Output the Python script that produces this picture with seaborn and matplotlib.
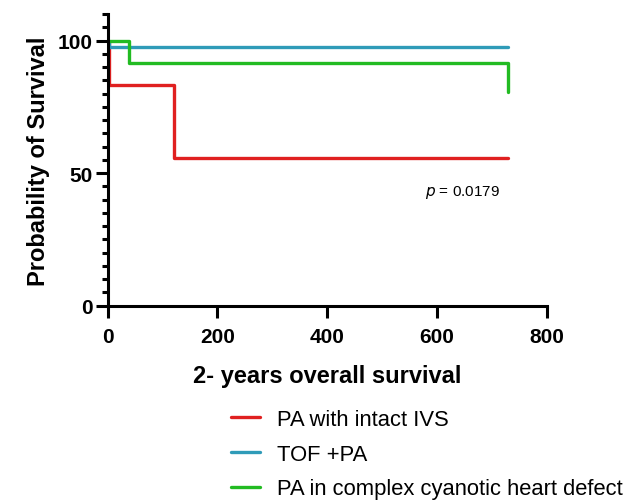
import numpy as np
import pandas as pd
import matplotlib
matplotlib.use("Agg")
import matplotlib.pyplot as plt
import seaborn as sns
from matplotlib.ticker import MultipleLocator

sns.set_theme(style="ticks")
plt.rcParams['font.family'] = ['Liberation Sans', 'DejaVu Sans']
plt.rcParams['text.color'] = 'black'
plt.rcParams['axes.labelcolor'] = 'black'
plt.rcParams['xtick.color'] = 'black'
plt.rcParams['ytick.color'] = 'black'

groups = ["PA with intact IVS", "TOF +PA", "PA in complex cyanotic heart defect"]
colors = ["#e02020", "#2f9bb8", "#22bb22"]
red_t = [0, 3, 120, 730]
red_s = [100, 83.3, 55.6, 55.6]
teal_t = [0, 2, 730]
teal_s = [100, 97.5, 97.5]
green_t = [0, 39, 730, 730]
green_s = [100, 91.7, 91.7, 80.5]
p_text = "= 0.0179"

rows = []
for g, t, s in zip(groups, [red_t, teal_t, green_t], [red_s, teal_s, green_s]):
    for ti, si in zip(t, s):
        rows.append({"group": g, "time": ti, "surv": si})
df = pd.DataFrame(rows)

fig = plt.figure(figsize=(6.38, 5.02), dpi=100)
ax = fig.add_axes([107.7/638, (502-306.7)/502, 439/638, (306.7-15)/502])
for g, c in zip(groups, colors):
    sub = df[df.group == g]
    sns.lineplot(data=sub, x="time", y="surv", ax=ax, color=c, lw=2.4,
                 drawstyle="steps-post", label=g, sort=False, estimator=None)

ax.set_xlim(0, 800)
ax.set_ylim(0, 110)
ax.set_xticks([0, 200, 400, 600, 800])
ax.set_yticks([0, 50, 100])
ax.yaxis.set_minor_locator(MultipleLocator(5))
ax.tick_params(axis='both', which='major', length=8.5, width=2.2, labelsize=15)
ax.tick_params(axis='x', which='major', pad=7)
ax.tick_params(axis='y', which='major', pad=2)
ax.tick_params(axis='y', which='minor', length=4.5, width=2.2)
for lab in ax.get_xticklabels() + ax.get_yticklabels():
    lab.set_fontweight('bold')
for sp in ['top', 'right']:
    ax.spines[sp].set_visible(False)
for sp in ['left', 'bottom']:
    ax.spines[sp].set_linewidth(2.2)
    ax.spines[sp].set_color('black')
ax.set_xlabel("2- years overall survival", fontsize=17, fontweight='bold', labelpad=13)
ax.set_ylabel("Probability of Survival", fontsize=17, fontweight='bold', labelpad=6)
ax.text(646, 43, r"$\it{p}$ " + p_text, fontsize=11, ha='center', va='center')

handles, labels = ax.get_legend_handles_labels()
ax.get_legend().remove()
fig.legend(handles, labels, loc='upper left', bbox_to_anchor=(231/638, (502-410)/502),
           frameon=False, fontsize=15.8, handlelength=1.3, labelspacing=0.62,
           handletextpad=0.8, borderpad=0, borderaxespad=0)
fig.savefig("out.png", dpi=100)
